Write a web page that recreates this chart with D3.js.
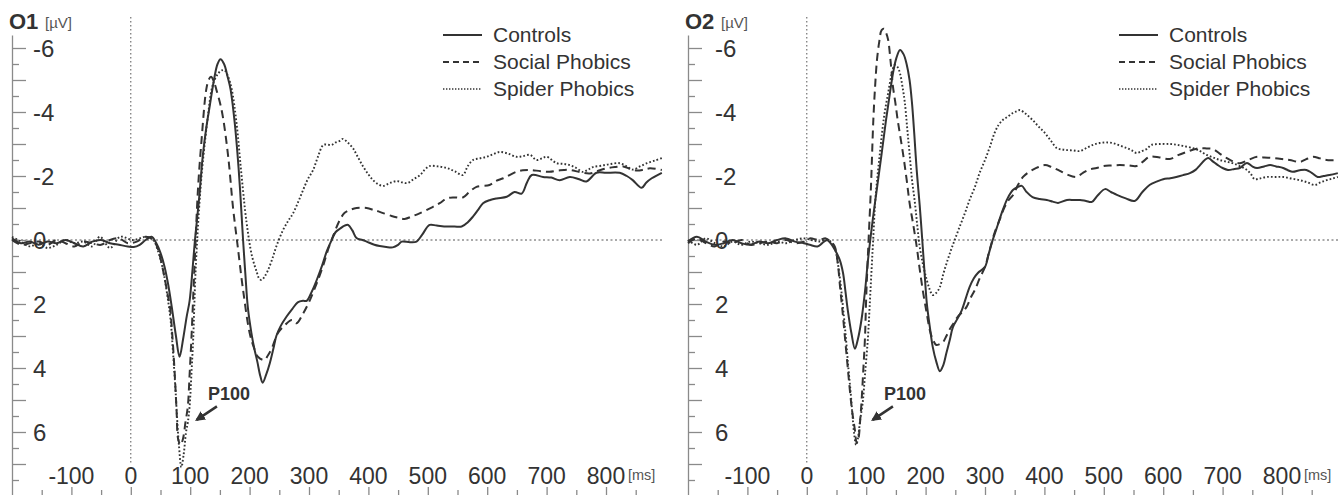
<!DOCTYPE html>
<html>
<head>
<meta charset="utf-8">
<script src="https://cdn.jsdelivr.net/npm/d3@7"></script>
<style>
  html, body { margin: 0; padding: 0; background: #fff; }
  svg { display: block; font-family: "Liberation Sans", Arial, sans-serif; }
</style>
</head>
<body>
<svg id="chart" width="1339" height="495"></svg>
<script>
// ---------------- DATA ----------------
const seriesNames = ["Controls", "Social Phobics", "Spider Phobics"];
const panelTitles = ["O1", "O2"];
const yTickLabels = [-6, -4, -2, 0, 2, 4, 6];
const xTickLabels = [-100, 0, 100, 200, 300, 400, 500, 600, 700, 800];
const annotationText = "P100";

// O1 – Controls (time ms, amplitude µV)
const o1ControlsT = [-200,-185,-170,-155,-140,-125,-110,-95,-80,-65,-50,-35,-20,-5,5,15,25,35,43,50,57,63,69,76,82,88,94,99,104,108,115,121,127,133,140,146,151,157,163,168,175,180,184,189,193,197,203,208,213,218,222,228,234,240,245,252,262,272,281,290,296,305,313,322,330,337,345,352,360,366,373,380,390,397,410,419,430,441,450,456,470,481,490,503,515,532,545,557,567,576,585,593,605,616,633,646,658,667,675,694,708,722,739,755,767,784,800,823,835,845,860,868,877,894];
const o1ControlsV = [-0.05,0.1,0.05,0.15,0.05,0.1,0.0,0.1,0.2,0.05,0.0,0.1,0.15,0.2,0.22,0.15,0.0,-0.1,0.1,0.4,0.85,1.4,2.1,3.0,3.65,3.1,2.4,1.9,0.9,0.0,-1.3,-2.6,-3.5,-4.2,-5.0,-5.5,-5.65,-5.5,-5.1,-4.7,-3.65,-2.6,-1.56,0.0,1.1,2.1,2.9,3.4,3.8,4.25,4.46,4.2,3.85,3.4,3.0,2.7,2.4,2.15,1.95,1.9,1.9,1.6,1.25,0.8,0.35,0.05,-0.25,-0.35,-0.45,-0.47,-0.3,-0.06,0.0,0.05,0.15,0.19,0.22,0.23,0.15,0.05,0.07,0.05,-0.15,-0.47,-0.45,-0.42,-0.42,-0.42,-0.55,-0.73,-0.95,-1.15,-1.25,-1.3,-1.35,-1.5,-1.45,-1.8,-2.03,-1.97,-1.95,-1.87,-1.97,-1.9,-1.83,-2.1,-2.1,-2.1,-2.0,-1.87,-1.63,-1.8,-1.93,-2.1];

// O1 – Social Phobics
const o1SocialT = [-200,-185,-170,-155,-140,-125,-110,-95,-80,-65,-50,-35,-20,-5,10,25,38,45,49,56,62,66,70,74,77,80,84,88,92,96,99,102,105,108,113,119,127,131,135,140,144,150,155,164,172,180,189,200,207,214,225,231,237,248,260,271,279,290,301,312,323,333,340,352,360,369,380,397,410,419,439,450,461,475,487,508,520,532,545,559,570,582,604,615,627,649,660,672,690,705,720,739,756,773,785,801,815,829,841,852,864,874,894];
const o1SocialV = [0.0,0.15,0.1,0.05,0.15,0.0,0.1,0.2,0.05,0.1,0.15,0.0,-0.05,0.1,0.05,-0.1,0.0,0.25,0.5,1.1,1.7,2.1,3.0,4.2,5.3,6.25,6.4,6.2,5.7,5.2,4.2,3.1,1.8,0.5,-1.56,-3.1,-4.7,-5.0,-5.1,-4.95,-4.7,-4.3,-3.85,-2.6,-1.03,0.2,1.56,2.9,3.35,3.65,3.75,3.6,3.4,2.9,2.65,2.5,2.6,2.3,1.9,1.4,0.85,0.25,-0.1,-0.63,-0.85,-0.94,-1.0,-1.0,-0.93,-0.88,-0.75,-0.7,-0.66,-0.75,-0.84,-1.03,-1.15,-1.3,-1.33,-1.33,-1.5,-1.66,-1.72,-1.85,-1.93,-2.13,-2.18,-2.19,-2.15,-2.13,-2.17,-2.19,-2.12,-2.08,-2.15,-2.24,-2.28,-2.3,-2.22,-2.17,-2.2,-2.24,-2.19];

// O1 – Spider Phobics
const o1SpiderT = [-200,-185,-170,-155,-140,-125,-110,-95,-80,-65,-52,-35,-18,3,15,25,38,45,50,56,62,67,71,75,78,81,85,89,93,96,99,102,105,109,115,120,125,130,136,141,147,153,158,164,170,178,186,195,204,212,216,220,225,231,238,245,256,265,273,282,290,298,307,315,324,331,338,345,352,357,365,374,382,391,400,408,416,425,436,448,457,466,476,487,495,503,517,532,545,559,567,576,587,599,610,621,635,649,660,672,683,692,700,717,728,739,750,761,770,778,792,806,823,835,845,857,869,882,894];
const o1SpiderV = [-0.1,0.05,0.2,0.1,0.25,0.15,0.0,0.1,0.05,0.2,-0.1,0.25,-0.1,0.0,-0.05,-0.1,0.0,0.3,0.6,1.1,1.8,2.5,3.5,4.6,5.6,6.4,7.1,6.7,6.0,5.7,5.2,4.2,3.1,1.0,-1.0,-2.2,-3.1,-3.9,-4.7,-5.0,-5.2,-5.3,-5.3,-5.1,-4.7,-3.65,-2.1,-0.53,0.5,1.0,1.2,1.25,1.15,0.94,0.6,0.2,-0.3,-0.6,-0.83,-1.2,-1.56,-1.9,-2.19,-2.6,-2.97,-2.98,-2.97,-3.05,-3.1,-3.16,-3.05,-2.87,-2.6,-2.3,-2.05,-1.87,-1.75,-1.69,-1.78,-1.84,-1.8,-1.78,-1.9,-2.03,-2.2,-2.31,-2.3,-2.25,-2.15,-2.03,-2.3,-2.5,-2.55,-2.6,-2.68,-2.75,-2.7,-2.6,-2.62,-2.66,-2.5,-2.55,-2.6,-2.4,-2.38,-2.34,-2.25,-2.13,-2.2,-2.28,-2.32,-2.37,-2.4,-2.3,-2.2,-2.3,-2.4,-2.48,-2.56];

// O2 – Controls
const o2ControlsT = [-200,-185,-170,-155,-140,-125,-110,-95,-80,-65,-50,-35,-20,-5,5,18,26,34,40,47,55,61,65,69,75,81,86,92,98,103,111,118,126,133,140,146,151,157,163,168,173,177,181,185,190,194,198,202,207,212,218,224,230,235,241,246,254,261,268,274,281,288,300,306,313,322,330,338,347,355,362,370,380,392,404,414,423,438,450,460,470,480,490,502,512,522,537,552,565,577,590,600,612,622,634,645,655,662,670,676,684,692,700,709,720,729,741,750,758,770,780,790,802,810,818,830,841,850,860,870,880,894];
const o2ControlsV = [0.05,-0.1,0.05,0.15,0.1,0.0,0.1,0.15,0.05,0.1,0.0,-0.05,0.05,0.1,0.15,0.2,0.1,0.0,0.1,0.3,0.6,1.03,1.6,2.19,2.9,3.4,3.1,2.5,1.6,0.63,-0.63,-1.6,-2.7,-3.7,-4.6,-5.3,-5.7,-5.94,-5.8,-5.5,-5.0,-4.3,-3.3,-2.19,-1.1,-0.1,0.95,1.97,2.7,3.34,3.8,4.1,3.9,3.53,3.1,2.72,2.45,2.19,1.8,1.47,1.2,1.03,0.84,0.45,0.0,-0.5,-0.94,-1.3,-1.56,-1.65,-1.69,-1.5,-1.34,-1.28,-1.25,-1.2,-1.16,-1.25,-1.25,-1.25,-1.22,-1.19,-1.4,-1.59,-1.5,-1.41,-1.3,-1.22,-1.5,-1.72,-1.83,-1.9,-1.93,-1.97,-2.03,-2.09,-2.2,-2.34,-2.5,-2.56,-2.45,-2.34,-2.25,-2.19,-2.22,-2.25,-2.41,-2.3,-2.25,-2.3,-2.34,-2.3,-2.25,-2.18,-2.13,-2.18,-2.19,-2.1,-1.97,-2.0,-2.03,-2.09];

// O2 – Social Phobics
const o2SocialT = [-200,-185,-170,-155,-140,-125,-110,-95,-80,-65,-50,-35,-20,-5,5,20,32,40,47,52,56,60,64,68,72,76,81,84,87,90,92,95,98,100,103,108,112,115,118,122,126,130,134,137,141,145,149,153,162,168,173,179,185,190,196,202,207,212,218,224,229,235,240,247,254,262,269,276,283,291,300,308,316,325,333,340,347,355,364,372,380,390,401,412,423,438,454,465,476,488,499,512,527,541,555,566,577,594,611,625,639,650,662,673,684,695,707,718,729,743,758,770,785,800,813,830,840,852,864,875,894];
const o2SocialV = [0.1,-0.05,0.1,0.2,0.05,0.1,0.0,0.15,0.1,0.05,0.1,0.0,0.1,0.05,-0.05,0.0,-0.05,0.05,0.2,0.7,1.47,2.2,3.0,3.8,4.6,5.3,5.94,6.35,6.2,5.6,5.1,4.1,3.03,1.8,0.42,-1.66,-3.75,-4.8,-5.6,-6.2,-6.56,-6.6,-6.45,-6.25,-5.6,-4.8,-4.3,-3.75,-2.7,-1.9,-1.16,-0.5,0.2,0.9,1.66,2.3,2.81,3.1,3.28,3.25,3.2,3.0,2.81,2.6,2.4,2.25,2.09,1.8,1.56,1.2,0.84,0.3,-0.22,-0.65,-1.03,-1.25,-1.4,-1.7,-1.97,-2.1,-2.19,-2.28,-2.34,-2.28,-2.19,-2.05,-1.97,-2.1,-2.2,-2.25,-2.31,-2.33,-2.34,-2.33,-2.31,-2.45,-2.6,-2.58,-2.53,-2.65,-2.75,-2.82,-2.87,-2.86,-2.84,-2.7,-2.56,-2.45,-2.4,-2.5,-2.6,-2.58,-2.56,-2.53,-2.5,-2.44,-2.52,-2.6,-2.55,-2.5,-2.5];

// O2 – Spider Phobics
const o2SpiderT = [-200,-185,-170,-155,-140,-125,-110,-95,-80,-65,-50,-35,-20,-5,8,20,32,40,47,52,57,62,66,70,74,77,80,83,86,90,94,98,103,106,109,112,115,119,123,127,131,137,143,148,153,157,161,165,169,173,177,182,186,190,196,202,207,212,218,224,230,237,243,249,257,266,274,283,291,300,308,316,323,330,338,347,353,359,368,380,390,401,411,421,430,438,448,460,473,483,493,504,515,527,539,547,555,564,572,580,596,611,622,633,650,662,673,684,695,706,717,730,741,748,754,762,774,788,802,816,830,843,855,865,875,885,894];
const o2SpiderV = [0.0,0.15,-0.05,0.1,0.2,0.05,0.15,0.05,0.1,0.15,0.05,0.1,0.0,-0.05,0.0,0.05,0.0,0.05,0.25,0.7,1.4,2.3,3.1,4.0,4.8,5.5,6.1,6.4,6.2,5.6,5.1,4.2,3.03,2.0,0.94,-0.1,-1.16,-2.0,-2.7,-3.4,-3.97,-4.6,-5.2,-5.47,-5.4,-5.2,-4.8,-4.3,-3.5,-2.7,-1.9,-1.16,-0.45,0.2,0.8,1.25,1.55,1.72,1.65,1.47,1.05,0.63,0.3,0.0,-0.4,-0.83,-1.25,-1.66,-2.1,-2.5,-2.9,-3.34,-3.6,-3.75,-3.85,-3.97,-4.02,-4.06,-3.95,-3.75,-3.55,-3.34,-3.1,-2.87,-2.83,-2.81,-2.8,-2.78,-2.9,-2.98,-3.03,-3.05,-3.03,-2.95,-2.87,-2.8,-2.72,-2.78,-2.84,-2.97,-3.0,-3.0,-2.98,-2.94,-2.87,-2.78,-2.66,-2.58,-2.5,-2.45,-2.4,-2.3,-2.19,-2.05,-1.9,-1.92,-1.97,-1.97,-1.97,-1.92,-1.87,-1.8,-1.72,-1.8,-1.87,-1.92,-1.97];

// ---------------- LAYOUT ----------------
const W = 1339, H = 495;
const pxPerMs = 0.594;
const pxPerUv = 32;
const panels = [
  { title: panelTitles[0], axisX: 12, labelX: 33,
    series: [[o1ControlsT, o1ControlsV], [o1SocialT, o1SocialV], [o1SpiderT, o1SpiderV]] },
  { title: panelTitles[1], axisX: 688, labelX: 715,
    series: [[o2ControlsT, o2ControlsV], [o2SocialT, o2SocialV], [o2SpiderT, o2SpiderV]] }
];
const styles = [
  { width: 2.0, dash: null },
  { width: 2.0, dash: "8,5" },
  { width: 1.9, dash: "1.7,2.1" }
];
const ink = "#333";
const axisGray = "#8a8a8a";

const svg = d3.select("#chart");
svg.append("rect").attr("width", W).attr("height", H).attr("fill", "#fff");

svg.append("defs").append("marker")
  .attr("id", "arrow").attr("viewBox", "0 0 10 10")
  .attr("refX", 8).attr("refY", 5)
  .attr("markerWidth", 4).attr("markerHeight", 4)
  .attr("orient", "auto")
  .append("path").attr("d", "M0,0L10,5L0,10z").attr("fill", ink);

panels.forEach(p => {
  const x = d3.scaleLinear().domain([-200, 900]).range([p.axisX, p.axisX + 1100 * pxPerMs]);
  const yTop = 35, yBot = 495;
  const y = d3.scaleLinear()
    .domain([-6 - 13 / pxPerUv, 6 + (yBot - 432) / pxPerUv])
    .range([yTop, yBot]);
  const g = svg.append("g");

  // zero reference lines (dotted)
  g.append("line")
    .attr("x1", x(0)).attr("x2", x(0))
    .attr("y1", 17).attr("y2", 463)
    .attr("stroke", "#555").attr("stroke-width", 1)
    .attr("stroke-dasharray", "1.5,2.5");
  g.append("line")
    .attr("x1", p.axisX).attr("x2", x(900) - 2)
    .attr("y1", y(0)).attr("y2", y(0))
    .attr("stroke", "#555").attr("stroke-width", 1)
    .attr("stroke-dasharray", "2,2.5");

  // y axis
  const yAxis = d3.axisRight(y)
    .tickValues(d3.range(-6, 7.51, 0.5))
    .tickSizeOuter(0).tickSizeInner(14).tickFormat("");
  const ya = g.append("g").attr("transform", `translate(${p.axisX},0)`).call(yAxis);
  ya.select(".domain").attr("stroke", axisGray).attr("stroke-width", 1.3);
  ya.selectAll(".tick line")
    .attr("stroke", axisGray).attr("stroke-width", 1.3)
    .attr("x2", d => Number.isInteger(d) ? 14 : 7);

  g.selectAll("text.ylab").data(yTickLabels).join("text")
    .attr("class", "ylab")
    .attr("x", p.labelX).attr("y", d => y(d)).attr("dy", "0.36em")
    .attr("font-size", 24).attr("fill", ink)
    .text(d => d < 0 ? "-" + Math.abs(d) : String(d));

  // x axis (ticks rising from bottom edge)
  const xAxis = d3.axisTop(x)
    .tickValues(d3.range(-150, 851, 50))
    .tickSizeOuter(0).tickSizeInner(8).tickFormat("");
  const xa = g.append("g").attr("transform", `translate(0,${H})`).call(xAxis);
  xa.select(".domain").remove();
  xa.selectAll(".tick line")
    .attr("stroke", axisGray).attr("stroke-width", 1.3)
    .attr("y2", d => d % 100 === 0 ? -8 : -5);

  g.selectAll("text.xlab").data(xTickLabels).join("text")
    .attr("class", "xlab")
    .attr("x", d => x(d)).attr("y", 484)
    .attr("text-anchor", "middle")
    .attr("font-size", 23).attr("fill", ink)
    .text(d => d < 0 ? "-" + Math.abs(d) : String(d));
  g.append("text")
    .attr("x", x(800) + 22).attr("y", 480)
    .attr("font-size", 14.5).attr("fill", "#555")
    .text("[ms]");

  // title
  g.append("text")
    .attr("x", p.axisX - 3).attr("y", 29)
    .attr("font-size", 22).attr("font-weight", "bold").attr("fill", ink)
    .text(p.title);
  g.append("text")
    .attr("x", p.axisX + 33).attr("y", 28)
    .attr("font-size", 15).attr("fill", "#555")
    .text("[µV]");

  // curves
  const line = d3.line()
    .x(d => x(d[0])).y(d => y(d[1]))
    .curve(d3.curveCatmullRom.alpha(0.5));
  p.series.forEach((s, i) => {
    const pts = s[0].map((t, k) => [t, s[1][k]]);
    g.append("path")
      .attr("d", line(pts))
      .attr("fill", "none")
      .attr("stroke", ink)
      .attr("stroke-width", styles[i].width)
      .attr("stroke-dasharray", styles[i].dash)
      .attr("stroke-linejoin", "round");
  });

  // legend
  const lgX = p.axisX + 431;
  seriesNames.forEach((name, i) => {
    const ly = 35 + i * 27;
    g.append("line")
      .attr("x1", lgX).attr("x2", lgX + 39)
      .attr("y1", ly).attr("y2", ly)
      .attr("stroke", ink)
      .attr("stroke-width", i === 2 ? 1.6 : 1.8)
      .attr("stroke-dasharray", i === 1 ? "6,4" : (i === 2 ? "1.4,1.6" : null));
    g.append("text")
      .attr("x", lgX + 50).attr("y", ly).attr("dy", "0.35em")
      .attr("font-size", 21).attr("fill", ink)
      .text(name);
  });

  // P100 annotation
  g.append("text")
    .attr("x", x(130)).attr("y", y(5.0))
    .attr("font-size", 18).attr("font-weight", "bold").attr("fill", ink)
    .text(annotationText);
  g.append("line")
    .attr("x1", x(145)).attr("y1", y(5.2))
    .attr("x2", x(111)).attr("y2", y(5.62))
    .attr("stroke", ink).attr("stroke-width", 2.5)
    .attr("marker-end", "url(#arrow)");
});
</script>
</body>
</html>
